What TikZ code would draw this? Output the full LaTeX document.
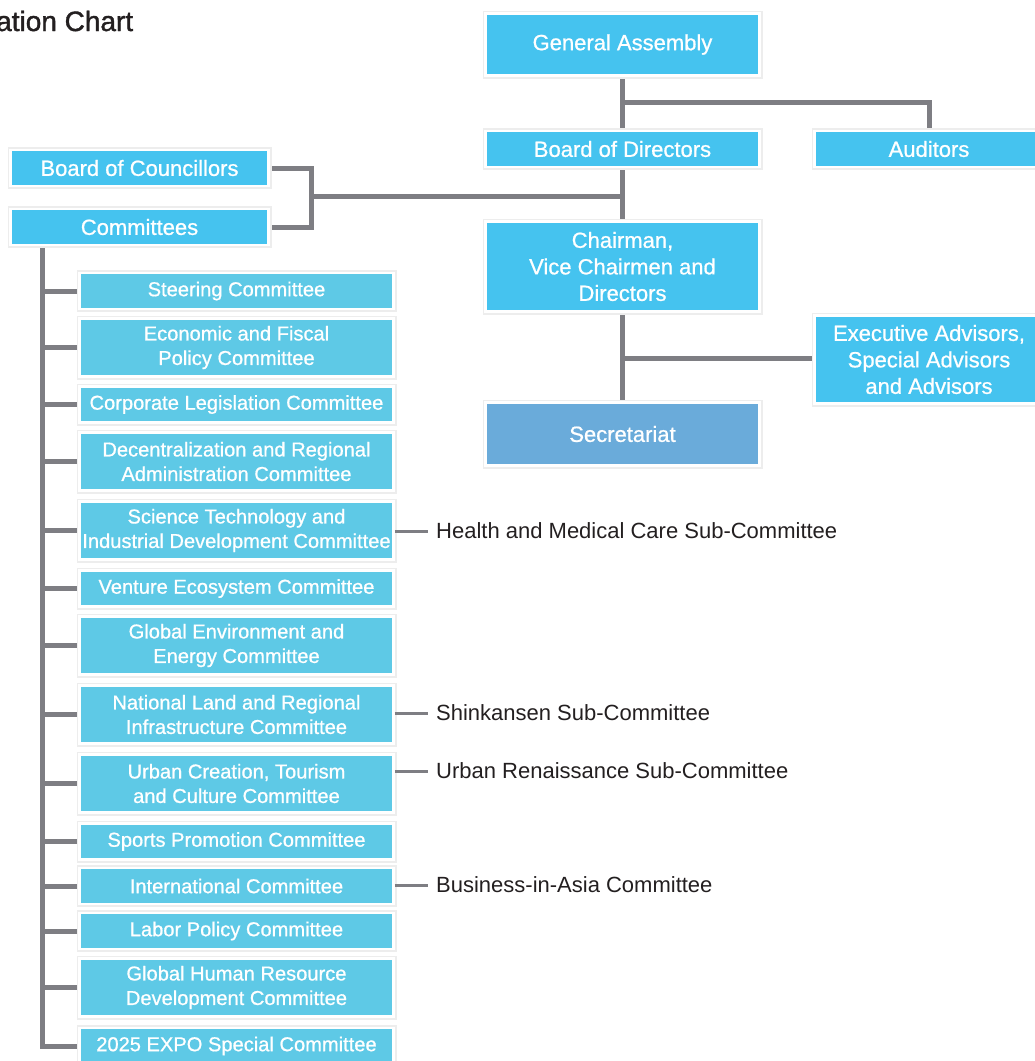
\documentclass[tikz,border=0pt]{standalone}
\usepackage{fontspec}
\setmainfont{Liberation Sans}
\newfontfamily\medfont{Liberation Sans}[FakeBold=0.8]
\newfontfamily\titlefont{Liberation Sans}[FakeBold=1.4]
\usetikzlibrary{backgrounds}
\definecolor{topblue}{HTML}{45C3EF}
\definecolor{comblue}{HTML}{5EC9E6}
\definecolor{secblue}{HTML}{6AABDA}
\definecolor{conn}{HTML}{7E7E83}
\definecolor{ink}{HTML}{231F20}
\begin{document}
\begin{tikzpicture}[x=1pt,y=-1pt,
  box/.style={draw=white, line width=2.5pt, text=white, align=center, inner sep=0pt,
    preaction={draw=black!7, line width=6pt}},
  topbox/.style={box, fill=topblue, minimum width=274pt, font=\medfont\fontsize{22}{26.5}\selectfont},
  sidebox/.style={box, fill=topblue, minimum width=258pt, minimum height=36pt, font=\medfont\fontsize{22}{26.5}\selectfont},
  combox/.style={box, fill=comblue, minimum width=314pt, font=\medfont\fontsize{20.1}{24.5}\selectfont},
  one/.style={minimum height=36pt},
  two/.style={minimum height=58pt},
  link/.style={draw=conn, line width=5pt},
  sublink/.style={draw=conn, line width=3pt},
  subtext/.style={anchor=west, inner sep=0pt, text=ink, font=\fontsize{22}{26}\selectfont}]
\useasboundingbox (0,0) rectangle (1035,1061);

% title
\node[anchor=base west, inner sep=0pt, text=ink, font=\titlefont\fontsize{28}{32}\selectfont] (title) at (-4,31) {ation Chart};

% top structure
\node[topbox, minimum height=62pt] (ga) at (622.5,44.5) {General Assembly};
\node[topbox, one] (bod) at (622.5,149) {Board of Directors};
\node[topbox, minimum width=229pt, one] (aud) at (929,149) {Auditors};
\node[topbox, minimum height=90pt] (chair) at (622.5,266.5) {Chairman,\\Vice Chairmen and\\Directors};
\node[topbox, minimum width=229pt, minimum height=88pt] (adv) at (929,359.5) {Executive Advisors,\\Special Advisors\\and Advisors};
\node[topbox, fill=secblue, minimum height=63pt] (sec) at (622.5,434) {Secretariat};

\node[sidebox] (boc) at (139.5,168) {Board of Councillors};
\node[sidebox] (com) at (139.5,227) {Committees};

% committees
\node[combox, one] (c1) at (236.5,291) {Steering Committee};
\node[combox, two] (c2) at (236.5,347.5) {Economic and Fiscal\\Policy Committee};
\node[combox, one] (c3) at (236.5,404.5) {Corporate Legislation Committee};
\node[combox, two] (c4) at (236.5,461.5) {Decentralization and Regional\\Administration Committee};
\node[combox, two] (c5) at (236.5,530.5) {Science Technology and\\Industrial Development Committee};
\node[combox, one] (c6) at (236.5,588.5) {Venture Ecosystem Committee};
\node[combox, two] (c7) at (236.5,645.5) {Global Environment and\\Energy Committee};
\node[combox, two] (c8) at (236.5,714.5) {National Land and Regional\\Infrastructure Committee};
\node[combox, two] (c9) at (236.5,783.5) {Urban Creation, Tourism\\and Culture Committee};
\node[combox, one] (c10) at (236.5,841.5) {Sports Promotion Committee};
\node[combox, one] (c11) at (236.5,886) {International Committee};
\node[combox, one] (c12) at (236.5,931) {Labor Policy Committee};
\node[combox, two] (c13) at (236.5,987.5) {Global Human Resource\\Development Committee};
\node[combox, one] (c14) at (236.5,1046) {2025 EXPO Special Committee};

% sub-committees
\node[subtext] (s5) at (436,531) {Health and Medical Care Sub-Committee};
\node[subtext] (s8) at (436,713) {Shinkansen Sub-Committee};
\node[subtext] (s9) at (436,771) {Urban Renaissance Sub-Committee};
\node[subtext] (s11) at (436,885) {Business-in-Asia Committee};

\coordinate (j1) at (622.5,102);
\coordinate (j2) at (622.5,196);
\coordinate (j3) at (311,196);
\coordinate (j4) at (622.5,358);
\coordinate (sp) at (42,246);

\begin{pgfonlayer}{background}
  \draw[link] (ga.south) -- (sec.north);
  \draw[link] (j1) -| (aud.north);
  \draw[link] (j2) -- (j3);
  \draw[link] (boc.east) -| (j3) |- (com.east);
  \draw[link] (j4) -- (j4 -| adv.west);
  \draw[link] (sp) |- (c14.west);
  \foreach \c in {c1,c2,c3,c4,c5,c6,c7,c8,c9,c10,c11,c12,c13}
    \draw[link] (\c.west) -- (\c.west -| sp);
\end{pgfonlayer}
\draw[sublink] (c5.east |- s5.west) -- ([xshift=-8pt]s5.west);
\draw[sublink] (c8.east |- s8.west) -- ([xshift=-8pt]s8.west);
\draw[sublink] (c9.east |- s9.west) -- ([xshift=-8pt]s9.west);
\draw[sublink] (c11.east |- s11.west) -- ([xshift=-8pt]s11.west);
\end{tikzpicture}
\end{document}
